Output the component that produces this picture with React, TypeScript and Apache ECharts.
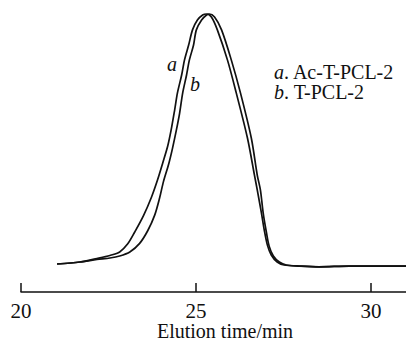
import React, { useEffect, useRef } from "react";
import * as echarts from "echarts";

// Elution time (min) and normalized detector signal
const timeA = [21.03, 21.68, 22.17, 22.54, 22.82, 23.05, 23.25, 23.5, 23.73, 23.9, 24.05, 24.19, 24.29, 24.39, 24.47, 24.59, 24.67, 24.79, 24.9, 25.04, 25.19, 25.3, 25.44, 25.61, 25.9, 26.15, 26.47, 26.67, 26.75, 26.87, 26.95, 27.04, 27.15, 27.32, 27.52, 27.95, 28.52, 29.37, 30.23, 31.0];
const signalA = [0.008, 0.016, 0.03, 0.042, 0.056, 0.088, 0.135, 0.2, 0.274, 0.341, 0.409, 0.475, 0.54, 0.619, 0.687, 0.758, 0.817, 0.877, 0.937, 0.976, 0.996, 1.0, 0.988, 0.937, 0.817, 0.687, 0.508, 0.361, 0.302, 0.21, 0.143, 0.083, 0.044, 0.016, 0.004, 0.0, -0.003, 0.0, 0.0, 0.0];

const timeB = [21.03, 21.68, 22.17, 22.54, 22.82, 23.11, 23.39, 23.62, 23.82, 23.96, 24.07, 24.22, 24.33, 24.44, 24.53, 24.62, 24.73, 24.81, 24.93, 25.01, 25.16, 25.3, 25.38, 25.53, 25.73, 26.01, 26.27, 26.58, 26.75, 26.84, 26.92, 27.01, 27.09, 27.21, 27.38, 27.58, 27.95, 28.52, 29.37, 30.23, 31.0];
const signalB = [0.008, 0.016, 0.026, 0.032, 0.04, 0.056, 0.09, 0.14, 0.202, 0.27, 0.335, 0.405, 0.468, 0.54, 0.605, 0.687, 0.758, 0.817, 0.877, 0.937, 0.976, 0.996, 1.0, 0.988, 0.937, 0.817, 0.687, 0.508, 0.361, 0.302, 0.21, 0.135, 0.079, 0.04, 0.016, 0.004, 0.0, -0.003, 0.0, 0.0, 0.0];

const xTicks = [20, 25, 30];
const axisTitle = "Elution time/min";
const legendLines = [
  { key: "a", name: "Ac-T-PCL-2" },
  { key: "b", name: "T-PCL-2" },
];

const FONT = "'Liberation Serif', 'Times New Roman', serif";

export default function App() {
  const ref = useRef<HTMLDivElement>(null);
  useEffect(() => {
    if (!ref.current) return;
    const chart = echarts.init(ref.current, null, { renderer: "svg" });
    const lineStyle = { color: "#111", width: 1.7 };
    chart.setOption({
      animation: false,
      backgroundColor: "#fff",
      grid: { left: 21, right: 0, top: 14, bottom: 51, containLabel: false, outerBoundsMode: "none" },
      xAxis: {
        type: "value",
        min: 20,
        max: 31,
        interval: 5,
        axisLine: { onZero: false, lineStyle: { color: "#111", width: 1.5 } },
        axisTick: { inside: true, length: 9, lineStyle: { color: "#111", width: 1.5 } },
        axisLabel: {
          fontFamily: FONT,
          fontSize: 21,
          color: "#111",
          margin: 8,
          showMaxLabel: false,
          formatter: (v: number) => (xTicks.includes(v) ? String(v) : ""),
        },
        splitLine: { show: false },
      },
      yAxis: { type: "value", min: -0.103, max: 1, show: false },
      series: [
        {
          type: "line",
          data: timeA.map((t, i) => [t, signalA[i]]),
          showSymbol: false,
          smooth: 0.3,
          clip: false,
          lineStyle,
        },
        {
          type: "line",
          data: timeB.map((t, i) => [t, signalB[i]]),
          showSymbol: false,
          smooth: 0.3,
          clip: false,
          lineStyle,
        },
      ],
      graphic: [
        {
          type: "text",
          x: 225,
          y: 331,
          style: { text: axisTitle, font: `20px ${FONT}`, fill: "#111", align: "center", verticalAlign: "middle" },
        },
        {
          type: "text",
          x: 172,
          y: 64,
          style: { text: "a", font: `italic 20px ${FONT}`, fill: "#111", align: "center", verticalAlign: "middle" },
        },
        {
          type: "text",
          x: 195,
          y: 84,
          style: { text: "b", font: `italic 20px ${FONT}`, fill: "#111", align: "center", verticalAlign: "middle" },
        },
        ...legendLines.map((l, i) => ({
          type: "text",
          x: 274,
          y: 72 + i * 20,
          style: {
            text: `{k|${l.key}}{n|. ${l.name}}`,
            verticalAlign: "middle",
            rich: {
              k: { fontFamily: FONT, fontStyle: "italic", fontSize: 20, lineHeight: 18, fill: "#111", color: "#111" },
              n: { fontFamily: FONT, fontSize: 20, lineHeight: 18, fill: "#111", color: "#111" },
            },
          },
        })),
      ],
    });
    return () => chart.dispose();
  }, []);
  return (
    <div
      ref={ref}
      style={{ position: "fixed", left: 0, top: 0, width: 406, height: 343, background: "#fff" }}
    />
  );
}
